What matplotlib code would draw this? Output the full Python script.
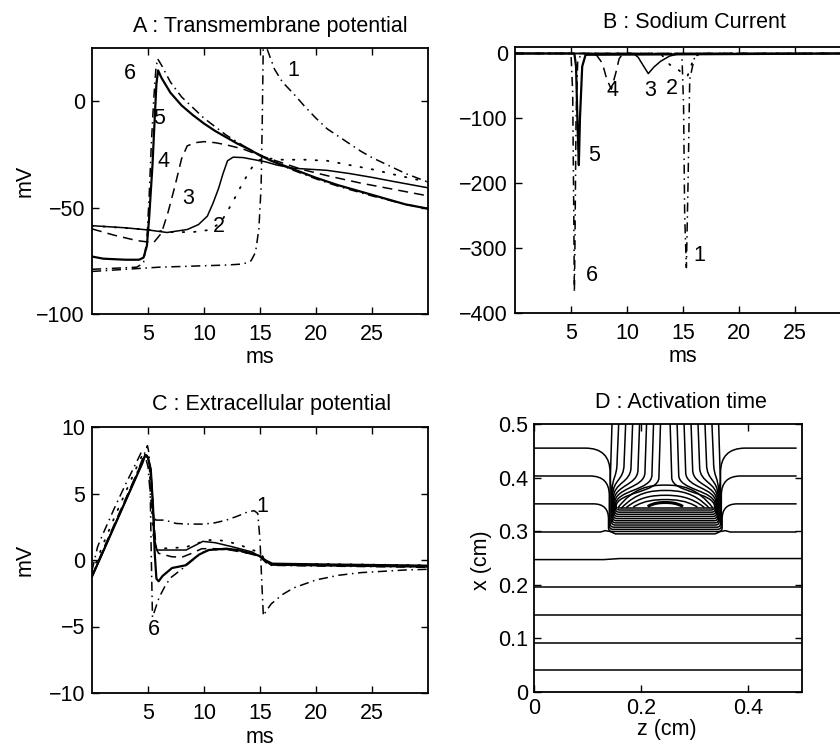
import matplotlib
matplotlib.use('Agg')
import matplotlib.pyplot as plt
from matplotlib.path import Path
from matplotlib.patches import PathPatch

plt.rcParams['font.family'] = ['Liberation Sans', 'DejaVu Sans']
FS = 15.5

# ---------------- Panel A : transmembrane potential (mV) ----------------
tA1 = [0, 3, 6, 9, 12, 13.5, 14.2, 14.6, 14.9, 15.1, 15.2, 15.3, 15.6, 16.3, 17, 18, 19, 20, 21, 22, 23, 24, 25, 26, 27, 28, 29, 30]
vA1 = [-80, -79, -78, -77.5, -77, -76.5, -75, -71, -60, -40, -10, 30, 25, 15, 9, 3.5, -2.5, -8, -13, -16.5, -20, -23.5, -26.5, -29, -31.5, -34, -36, -38]
tA2 = [0, 4, 7, 9, 10.5, 11.5, 12.5, 13.5, 14.3, 15, 16, 17, 19, 21, 23, 25, 27, 30]
vA2 = [-58.5, -60, -61.5, -61.5, -60.5, -57, -48, -38, -31, -27.5, -27, -27.5, -27.5, -28, -30, -32, -34.5, -38]
tA3 = [0, 3, 5, 6.7, 8.5, 9.5, 10.3, 10.8, 11.3, 11.7, 12.1, 12.6, 13.5, 14.5, 15.5, 16.5, 18, 19.5, 21, 23, 25, 27, 30]
vA3 = [-58.5, -59.5, -60.5, -61.7, -60.3, -58, -54, -48, -41, -34, -28, -26.3, -26.5, -27.5, -28.5, -30, -31.5, -32, -32.5, -34, -35.8, -37.8, -40.7]
tA4 = [0, 2, 4, 5.5, 6.2, 6.8, 7.4, 8, 8.5, 9.2, 10, 11, 12, 13.5, 15, 17, 18.7, 21, 24, 27, 30]
vA4 = [-60, -63, -65.5, -66.5, -62, -52, -40, -27, -21, -19.5, -19, -19.5, -20.5, -22.5, -25.5, -29, -32, -35, -38.5, -41.5, -44.5]
tA5 = [0, 1, 3, 4.2, 4.6, 4.9, 5.1, 5.4, 5.6, 5.75, 5.9, 6.2, 7, 8, 9, 10, 11, 12, 13, 14, 15, 16, 17, 18, 19, 20, 22, 24, 26, 28, 30]
vA5 = [-73, -74, -74.5, -74.5, -73.5, -68, -55, -30, -8, 8, 14.5, 11, 4, -2, -6.5, -10.5, -14, -17, -20, -22.5, -25.5, -28, -30, -32, -34, -36, -39.5, -42.5, -45.5, -48.5, -50.5]
tA6 = [0, 2, 4, 4.6, 4.9, 5.1, 5.3, 5.5, 5.7, 5.85, 6.2, 7, 8, 9, 10, 12, 14, 16, 18, 20, 22, 25, 28, 30]
vA6 = [-79, -78.5, -78, -76, -65, -45, -20, 0, 15, 20, 17, 9, 2, -3, -8, -16, -22.5, -28, -32.5, -36.5, -40, -44.5, -48.5, -50.5]
labA = ['1', '2', '3', '4', '5', '6']
labA_t = [18.0, 11.3, 8.6, 6.4, 6.0, 3.4]
labA_v = [14.5, -58.7, -45.5, -28.4, -8.1, 12.9]

# ---------------- Panel B : sodium current ----------------
tB1 = [0, 14.9, 15.05, 15.15, 15.3, 15.45, 15.6, 16.0, 16.5, 30]
vB1 = [0, 0, -80, -250, -330, -200, -40, -8, 0, 0]
tB2 = [0, 13.0, 13.8, 14.5, 15.0, 15.4, 15.7, 16.0, 16.5, 30]
vB2 = [0, 0, -17, -24, -31, -35, -20, -6, 0, 0]
tB3 = [0, 10.6, 11.0, 11.5, 11.9, 12.4, 13.0, 13.8, 14.5, 15, 30]
vB3 = [0, 0, -6, -20, -31, -21, -12, -4, -1, 0, 0]
tB4 = [0, 6.8, 7.3, 7.8, 8.2, 8.6, 9.0, 9.3, 9.6, 10, 30]
vB4 = [0, 0, -3, -15, -40, -55, -30, -8, -1, 0, 0]
tB5 = [0, 5.3, 5.45, 5.6, 5.7, 5.8, 6.0, 6.3, 30]
vB5 = [0, 0, -20, -120, -172, -100, -20, -2, 0]
tB6 = [0, 5.0, 5.15, 5.25, 5.3, 5.35, 5.45, 5.6, 6.0, 30]
vB6 = [0, 0, -60, -250, -368, -300, -100, -10, 0, 0]
labB_t = [16.5, 14.0, 12.05, 8.7, 7.05, 6.85]
labB_v = [-311, -54, -57, -57, -157, -342]

# ---------------- Panel C : extracellular potential ----------------
tC1 = [0, 0.5, 1, 2, 3, 4, 4.4, 4.7, 5.0, 5.2, 5.4, 5.7, 6.5, 7.5, 8.5, 10, 11, 12, 13, 14, 14.5, 14.8, 15.0, 15.15, 15.3, 15.5, 16, 17, 18, 20, 22, 24, 26, 28, 30]
vC1 = [-0.8, 1.0, 2.0, 3.9, 5.7, 7.4, 8.1, 8.0, 7.0, 5.0, 3.6, 3.0, 3.0, 2.75, 2.7, 2.7, 2.8, 3.0, 3.3, 3.65, 3.7, 3.5, 1.5, -1.5, -4.2, -3.9, -3.3, -2.6, -2.1, -1.5, -1.15, -0.95, -0.85, -0.75, -0.7]
tC2 = [0, 1, 2, 3, 4, 4.5, 4.8, 5.05, 5.25, 5.45, 5.7, 6.25, 7.3, 8.5, 10.3, 11.3, 12.2, 13.25, 14.3, 14.9, 15.5, 16, 20, 25, 30]
vC2 = [-1.0, 1.2, 3.2, 5.1, 7.0, 7.9, 8.1, 7.6, 5.5, 2.0, 0.9, 0.87, 0.9, 1.0, 1.5, 1.5, 1.37, 1.12, 0.75, 0.62, 0.0, -0.3, -0.3, -0.35, -0.4]
tC3 = [0, 1, 2, 3, 4, 4.5, 4.75, 5.0, 5.25, 5.45, 5.6, 5.8, 6.5, 8.4, 9.9, 11, 12.5, 14.3, 15.5, 16.1, 20, 25, 30]
vC3 = [-1.25, 0.65, 2.55, 4.45, 6.35, 7.3, 7.9, 7.7, 6.8, 4.0, 1.5, 0.75, 0.75, 0.75, 1.4, 1.3, 1.0, 0.6, 0.0, -0.25, -0.3, -0.35, -0.4]
tC4 = [0, 1, 2, 3, 4, 4.6, 4.85, 5.1, 5.35, 5.55, 5.75, 5.95, 7.1, 8, 8.9, 9.8, 11, 12, 13, 14, 15, 15.6, 16, 20, 25, 30]
vC4 = [-1.2, 0.8, 2.7, 4.6, 6.5, 7.6, 7.9, 7.4, 5.5, 2.5, 0.8, 0.5, 0.25, 0.2, 0.5, 0.85, 0.85, 0.8, 0.65, 0.5, 0.25, -0.2, -0.35, -0.35, -0.4, -0.45]
tC5 = [0, 1, 2, 3, 4, 4.5, 4.75, 5.0, 5.25, 5.45, 5.6, 5.75, 5.95, 6.3, 7.15, 8.35, 9.55, 10.4, 12, 13, 14, 15, 15.5, 16, 20, 25, 30]
vC5 = [-1.25, 0.65, 2.55, 4.45, 6.35, 7.3, 7.9, 7.7, 6.8, 4.0, 0.5, -1.4, -1.6, -1.2, -0.6, -0.4, 0.4, 0.75, 0.85, 0.75, 0.55, 0.3, -0.05, -0.35, -0.4, -0.45, -0.5]
tC6 = [0, 1, 2, 3, 4, 4.6, 4.95, 5.1, 5.2, 5.3, 5.4, 5.6, 6.0, 6.5, 7, 8, 9, 9.7, 10.5, 12, 13, 14, 15, 15.6, 16, 20, 25, 30]
vC6 = [-1.2, 0.7, 2.6, 4.5, 6.5, 7.8, 8.6, 8.0, 5.0, 0.0, -4.3, -3.8, -2.8, -2.0, -1.35, -0.7, 0.0, 0.5, 0.75, 0.8, 0.7, 0.5, 0.25, -0.25, -0.4, -0.45, -0.5, -0.55]
labC = ['1', '6']
labC_t = [15.2, 5.55]
labC_v = [4.0, -5.25]

# ---------------- Panel D : activation time isochrones (z, x in cm) ----------------
flat_x = [0.041, 0.092, 0.144, 0.196]
l5_z = [0, 0.13, 0.16, 0.5]
l5_x = [0.247, 0.247, 0.249, 0.249]
l6_z = [0, 0.124, 0.133, 0.142, 0.152, 0.245]
l6_x = [0.2985, 0.2985, 0.301, 0.2995, 0.295, 0.295]
side_level = [0.351, 0.403, 0.455]
side_wall_z = [0.139, 0.1405, 0.142]
side_radius = [0.028, 0.036, 0.046]
side_stack = [0.2995, 0.3035, 0.3075]
top_z = [0.1455, 0.158, 0.171, 0.184, 0.197, 0.210, 0.223, 0.236]
top_bend = [0.40, 0.43, 0.425, 0.42, 0.415, 0.41, 0.405, 0.40]
top_wall_x = [0.37, 0.372, 0.366, 0.361, 0.356, 0.352, 0.348, 0.345]
top_wall_z = [0.1445, 0.1457, 0.1469, 0.1481, 0.1493, 0.1505, 0.1517, 0.1529]
top_stack = [0.3115, 0.3155, 0.3195, 0.3235, 0.3275, 0.3315, 0.3355, 0.3395]
band_x = [0.3435]
arch_peak = [0.386, 0.376, 0.367, 0.359, 0.3535]
arch_foot_z = [0.156, 0.163, 0.172, 0.185, 0.212]
arch_foot_x = [0.343, 0.343, 0.344, 0.345, 0.346]
arch_flat = [0.030, 0.026, 0.022, 0.018, 0.010]
ZC = 0.245  # symmetry axis of the slow region

DASH = (0, (6.5, 4))
DASHDOT = (0, (6, 3, 1, 3))
DOT = (0, (0.8, 5.5))
styles = [DASHDOT, DOT, '-', DASH, '-', DASHDOT]
widths = [1.1, 1.3, 1.1, 1.1, 1.6, 1.1]

fig = plt.figure(figsize=(8.4, 7.47), dpi=100)
W, H = 840.0, 747.0


def axes_px(l, t, r, b):
    return fig.add_axes([l / W, 1 - b / H, (r - l) / W, (b - t) / H])


def style_axes(ax):
    for s in ax.spines.values():
        s.set_linewidth(1.3)
    ax.tick_params(direction='in', top=True, right=True, length=5, width=1.0,
                   labelsize=FS, pad=5)
    ax.tick_params(axis='x', pad=7)


def title(ax, txt, xf, yf):
    ax.text(xf, yf, txt, transform=ax.transAxes, ha='center', va='baseline', fontsize=FS)


def curves(ax, data):
    for i, (t, v) in enumerate(data):
        ax.plot(t, v, color='k', linestyle=styles[i], linewidth=widths[i],
                dash_capstyle='round' if styles[i] is DOT else 'butt')


axA = axes_px(92, 48, 428, 314)
axB = axes_px(515, 47, 851, 313)
axC = axes_px(92, 427, 428, 693)
axD = axes_px(534, 424, 802, 692)

# A
curves(axA, [(tA1, vA1), (tA2, vA2), (tA3, vA3), (tA4, vA4), (tA5, vA5), (tA6, vA6)])
for s, t, v in zip(labA, labA_t, labA_v):
    axA.text(t, v, s, ha='center', va='center', fontsize=FS)
axA.set_xlim(0, 30)
axA.set_ylim(-100, 25)
axA.set_xticks([5, 10, 15, 20, 25])
axA.set_yticks([-100, -50, 0])
style_axes(axA)
title(axA, 'A : Transmembrane potential', 0.53, 1.06)
axA.text(0.5, -0.184, 'ms', transform=axA.transAxes, ha='center', va='baseline', fontsize=FS)
axA.text(-0.2, 0.5, 'mV', transform=axA.transAxes, ha='center', va='center', rotation=90, fontsize=FS)

# B
curves(axB, [(tB1, vB1), (tB2, vB2), (tB3, vB3), (tB4, vB4), (tB5, vB5), (tB6, vB6)])
for s, t, v in zip(labA, labB_t, labB_v):
    axB.text(t, v, s, ha='center', va='center', fontsize=FS)
axB.set_xlim(0, 30)
axB.set_ylim(-400, 10)
axB.set_xticks([5, 10, 15, 20, 25])
axB.set_yticks([-400, -300, -200, -100, 0])
style_axes(axB)
title(axB, 'B : Sodium Current', 0.533, 1.07)
axB.text(0.5, -0.184, 'ms', transform=axB.transAxes, ha='center', va='baseline', fontsize=FS)

# C
curves(axC, [(tC1, vC1), (tC2, vC2), (tC3, vC3), (tC4, vC4), (tC5, vC5), (tC6, vC6)])
for s, t, v in zip(labC, labC_t, labC_v):
    axC.text(t, v, s, ha='center', va='center', fontsize=FS)
axC.set_xlim(0, 30)
axC.set_ylim(-10, 10)
axC.set_xticks([5, 10, 15, 20, 25])
axC.set_yticks([-10, -5, 0, 5, 10])
style_axes(axC)
title(axC, 'C : Extracellular potential', 0.535, 1.064)
axC.text(0.5, -0.188, 'ms', transform=axC.transAxes, ha='center', va='baseline', fontsize=FS)
axC.text(-0.2, 0.5, 'mV', transform=axC.transAxes, ha='center', va='center', rotation=90, fontsize=FS)

# D
LT, Q3, C4 = Path.LINETO, Path.CURVE3, Path.CURVE4
CODE = {'L': LT, 'Q': Q3, 'C': C4}


def mirror(p):
    return (2 * ZC - p[0], p[1])


def sym_path(start, segs):
    verts = [start]
    codes = [Path.MOVETO]
    for kind, pts in segs:
        verts += pts
        codes += [CODE[kind]] * len(pts)
    ends = [start] + [s[1][-1] for s in segs]
    for i in range(len(segs) - 1, -1, -1):
        kind, pts = segs[i]
        newp = [mirror(c) for c in reversed(pts[:-1])] + [mirror(ends[i])]
        verts += newp
        codes += [CODE[kind]] * len(newp)
    return Path(verts, codes)


def draw(path, lw=1.1):
    axD.add_patch(PathPatch(path, fill=False, edgecolor='k', linewidth=lw))


for xv in flat_x:
    axD.plot([0, 0.5], [xv, xv], color='k', linewidth=1.1)
axD.plot(l5_z, l5_x, color='k', linewidth=1.1)
draw(sym_path((l6_z[0], l6_x[0]), [('L', [(z, x)]) for z, x in zip(l6_z[1:], l6_x[1:])]))

r = 0.007
for lev, wz, R, s in zip(side_level, side_wall_z, side_radius, side_stack):
    segs = [('L', [(wz - R, lev)]),
            ('Q', [(wz, lev), (wz, lev - R)]),
            ('L', [(wz, s + r)]),
            ('Q', [(wz, s), (wz + r, s)]),
            ('L', [(ZC, s)])]
    draw(sym_path((0.0, lev), segs))

for zt, xb, xw, wz, s in zip(top_z, top_bend, top_wall_x, top_wall_z, top_stack):
    h = 0.45 * (xb - xw) + 0.004
    zl = zt - 0.003
    segs = [('L', [(zl, xb)]),
            ('C', [(zl, xb - h), (wz, xw + h), (wz, xw)]),
            ('L', [(wz, s + r)]),
            ('Q', [(wz, s), (wz + r, s)]),
            ('L', [(ZC, s)])]
    draw(sym_path((zt, 0.5), segs))

for bx in band_x:
    draw(sym_path((0.156, bx), [('L', [(ZC, bx)])]))

for i, (pk, fz, fx, fl) in enumerate(zip(arch_peak, arch_foot_z, arch_foot_x, arch_flat)):
    segs = [('C', [(fz + 0.5 * (ZC - fl - fz), fx + 0.9 * (pk - fx)), (ZC - fl, pk), (ZC, pk)])]
    draw(sym_path((fz, fx), segs), lw=2.2 if i == len(arch_peak) - 1 else 1.1)

axD.set_xlim(0, 0.5)
axD.set_ylim(0, 0.5)
axD.set_xticks([0, 0.2, 0.4])
axD.set_xticklabels(['0', '0.2', '0.4'])
axD.set_yticks([0, 0.1, 0.2, 0.3, 0.4, 0.5])
axD.set_yticklabels(['0', '0.1', '0.2', '0.3', '0.4', '0.5'])
style_axes(axD)
axD.tick_params(axis='y', pad=4)
axD.tick_params(axis='x', pad=4)
title(axD, 'D : Activation time', 0.549, 1.06)
axD.text(0.496, -0.16, 'z (cm)', transform=axD.transAxes, ha='center', va='baseline', fontsize=FS)
axD.text(-0.195, 0.4925, 'x (cm)', transform=axD.transAxes, ha='center', va='center', rotation=90, fontsize=FS)

fig.savefig('out.png', dpi=100)
